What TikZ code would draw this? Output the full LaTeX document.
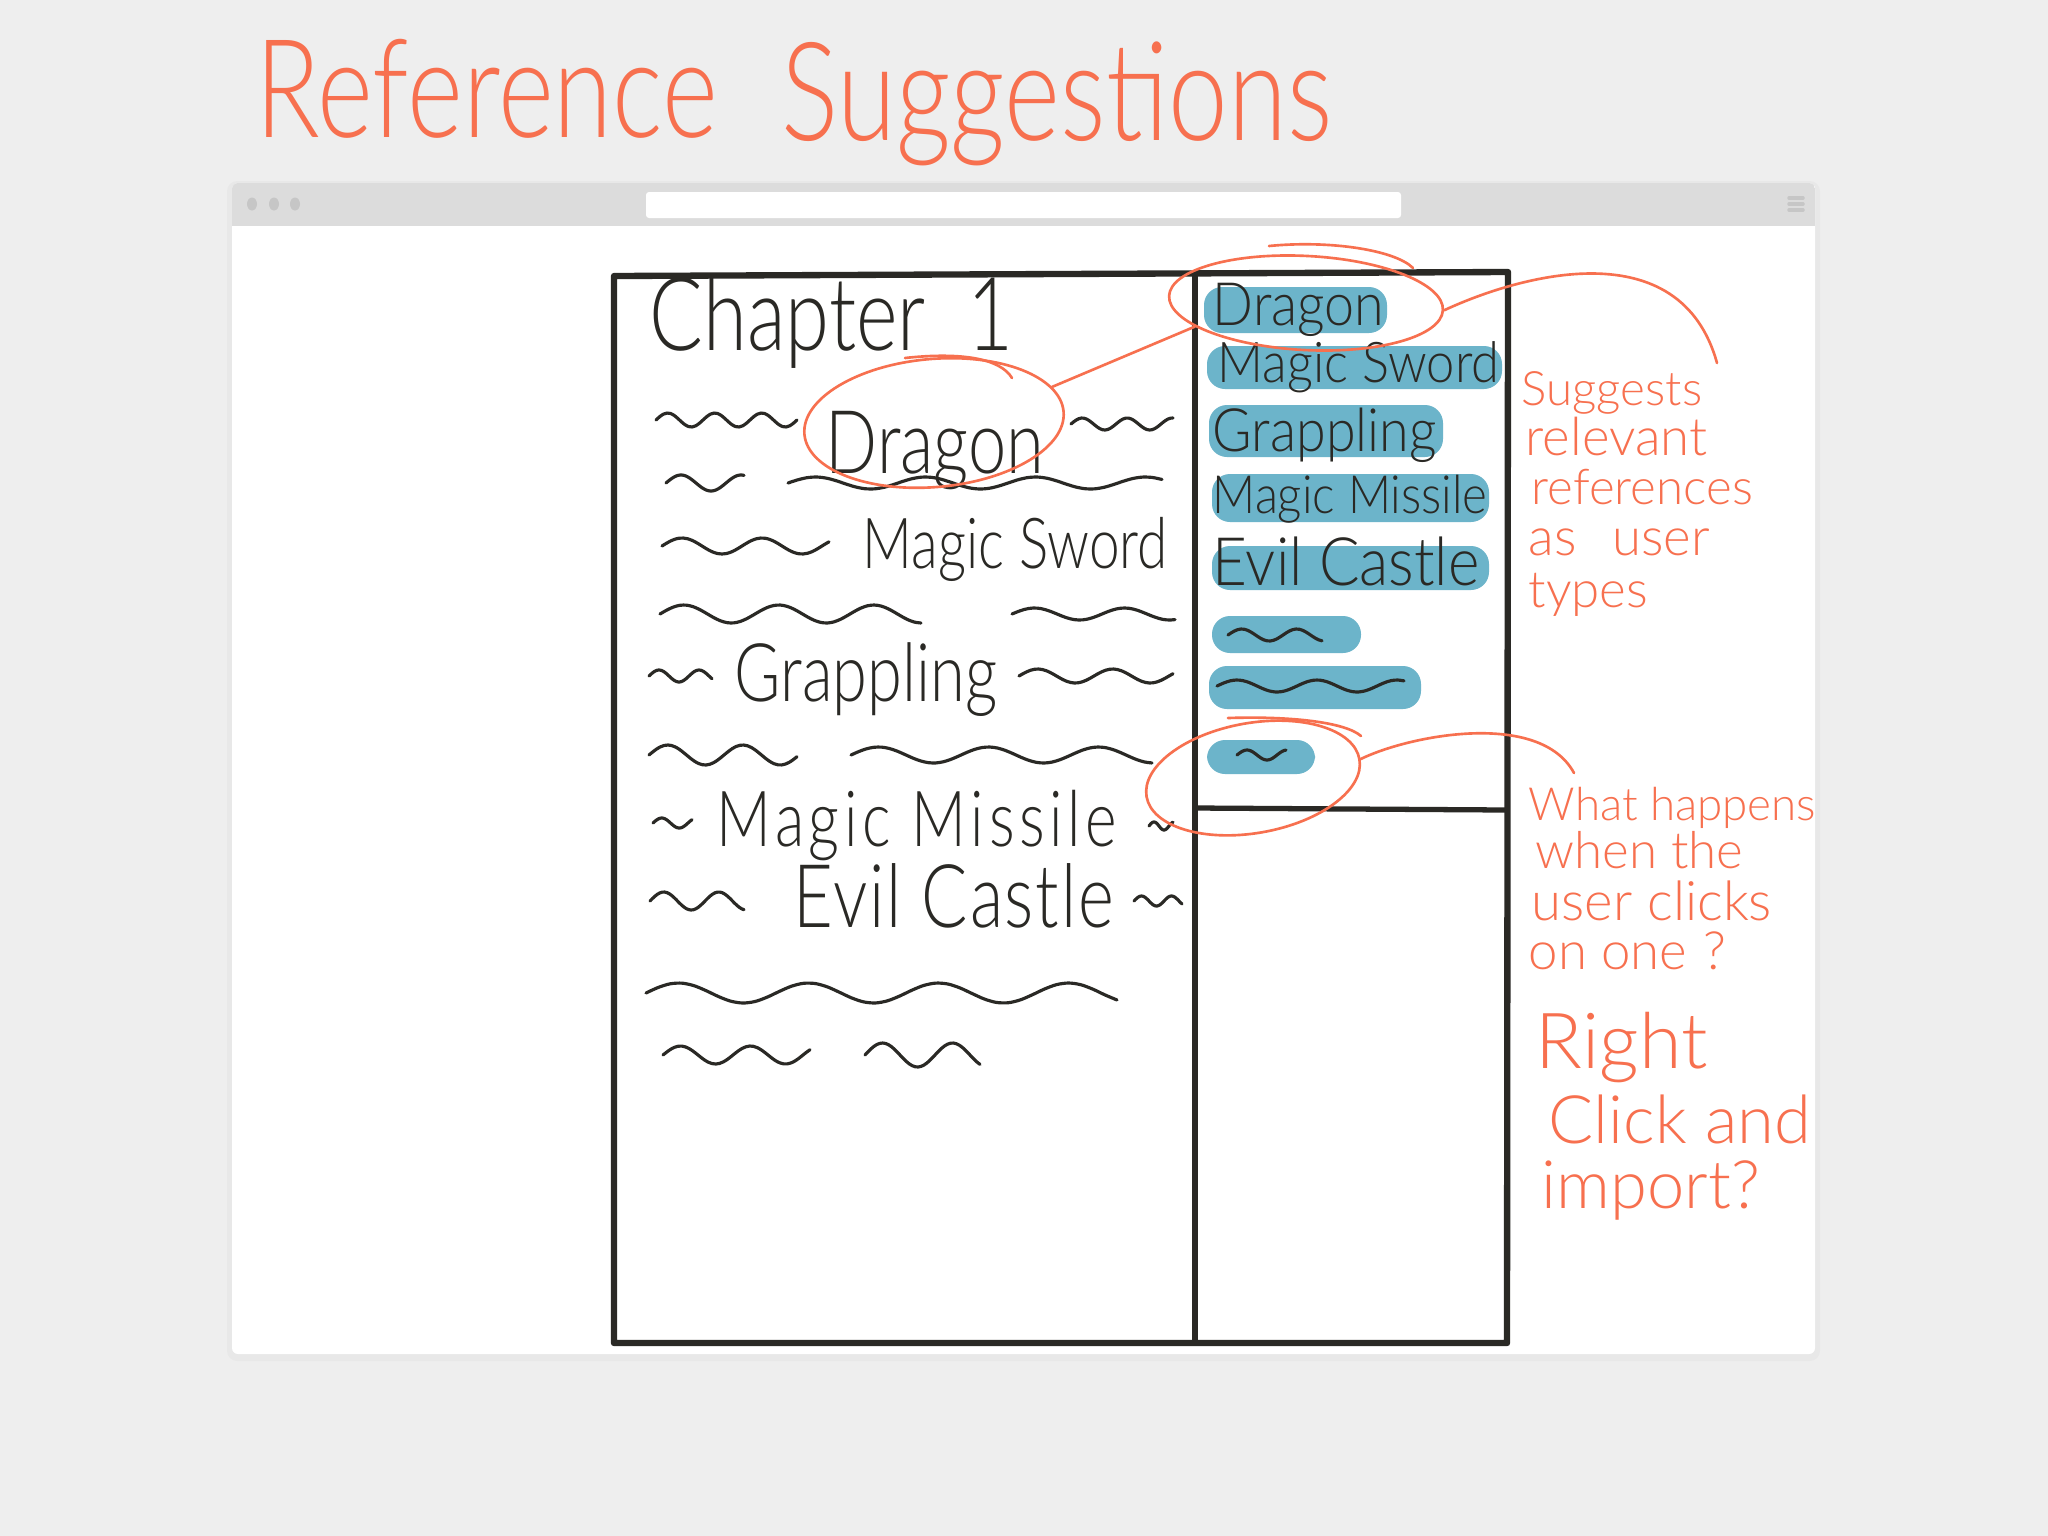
\documentclass[tikz,border=0pt]{standalone}
\usepackage{fontspec}
\usetikzlibrary{shapes.geometric}
\newfontfamily\handfont[FakeStretch=0.78]{Lato Light}
\newfontfamily\pillfont[FakeStretch=0.9]{Lato Light}
\newfontfamily\notefont{Lato Light}
\newcommand\handat[1]{\handfont\fontsize{#1}{#1}\selectfont}
\newcommand\pillat[1]{\pillfont\fontsize{#1}{#1}\selectfont}
\newcommand\noteat[1]{\notefont\fontsize{#1}{#1}\selectfont}
\definecolor{paper}{HTML}{EEEEEE}
\definecolor{chrome}{HTML}{DCDCDC}
\definecolor{knob}{HTML}{C6C6C6}
\definecolor{ink}{HTML}{2A2925}
\definecolor{pen}{HTML}{F7704F}
\definecolor{pill}{HTML}{6CB4CA}

\begin{document}
\begin{tikzpicture}[x=0.01cm, y=-0.01cm,
  inkline/.style={ink, line width=0.9pt, line cap=round, line join=round},
  penline/.style={pen, line width=0.75pt, line cap=round},
  ring/.style={draw=pen, line width=0.75pt, ellipse, inner sep=0pt},
  word/.style={text=ink, inner sep=0pt, anchor=base west},
  note/.style={text=pen, inner sep=0pt, anchor=base west}]
  \useasboundingbox (0,0) rectangle (2048,1536);
  \fill[paper] (0,0) rectangle (2048,1536);

  % browser window
  \fill[black, opacity=0.025, rounded corners=0.1cm] (227,181) rectangle (1820,1361);
  \fill[white, rounded corners=0.06cm] (232,183) rectangle (1815,1354);
  \begin{scope}
    \clip[rounded corners=0.06cm] (232,183) rectangle (1815,1354);
    \fill[chrome] (232,183) rectangle (1815,226);
  \end{scope}
  \fill[white, rounded corners=0.03cm] (646,192) rectangle (1401,218);
  \foreach \x in {252,274,295}
    \fill[knob] (\x,204) ellipse [x radius=5, y radius=6.5];
  \foreach \y in {198,204,210}
    \draw[knob, line width=1pt, line cap=round] (1789,\y) -- (1803,\y);

  % title
  \node[note, font=\handat{39}] (head1) at (255,137) {Reference};
  \node[note, font=\handat{39}] (head2) at (781,140) {Suggestions};

  % page and side panel
  \draw[ink, line width=1.8pt, line join=round] (614,276) -- (1508,272) -- (1507,1343) -- (614,1343) -- cycle;
  \draw[ink, line width=1.5pt] (1195,274) -- (1195,1343);
  \draw[ink, line width=1.5pt] (1195,808) -- (1506,810);

  % squiggly filler lines
  \foreach \a/\b/\y/\h/\p in {656/797/420/7/47, 1071/1173/424/6/45,
      666/744/483/8/60, 788/1162/483/6/110, 662/829/546/8/80,
      660/921/614/9/95, 1012/1175/614/6/90, 649/712/676/6/40,
      1019/1173/676/7/75, 649/797/755/10/75, 851/1152/755/8/110,
      653/692/823/5/35, 1149/1173/826/4/20, 650/744/901/9/55,
      1134/1182/901/5/30, 646/1117/993/10/130, 663/810/1055/9/70,
      865/980/1055/12/70}
    \draw[inkline] plot[domain=\a:\b, samples=40, smooth] (\x, {\y-\h*sin((\x-\a)/\p*360)});

  % page words
  \node[word, font=\handat{29}] (chap) at (649,350) {Chapter \hspace{0.2em}1};
  \node[word, font=\handat{25}] (dragL) at (825,473) {Dragon};
  \node[word, font=\handat{20}] (swordL) at (862,568) {Magic Sword};
  \node[word, font=\handat{23}] (grapL) at (734,701) {Grappling};
  \node[word, font={\handat{22}\addfontfeature{LetterSpace=6}}] (missL) at (716,846) {Magic Missile};
  \node[word, font={\handat{25}\addfontfeature{LetterSpace=2}}] (castL) at (793,927) {Evil Castle};

  % suggestion pills
  \foreach \a/\b/\c/\d in {1204/287/1387/333, 1207/346/1502/389,
      1209/405/1443/457, 1212/474/1489/522, 1212/546/1489/590,
      1212/616/1361/653, 1209/666/1421/709, 1207/740/1315/774}
    \fill[pill, rounded corners=0.18cm] (\a,\b) rectangle (\c,\d);
  \node[word, font=\pillat{17}] (dragR) at (1212,325) {Dragon};
  \node[word, font=\pillat{16}] (swordR) at (1217,382) {Magic Sword};
  \node[word, font=\pillat{17}] (grapR) at (1212,451) {Grappling};
  \node[word, font=\pillat{15}] (missR) at (1212,513) {Magic Missile};
  \node[word, font=\pillat{19}] (castR) at (1212,585) {Evil Castle};
  \foreach \a/\b/\y/\h/\p in {1228/1322/635/6/55, 1217/1404/686/6/80,
      1237/1286/755/5/40}
    \draw[inkline] plot[domain=\a:\b, samples=30, smooth] (\x, {\y-\h*sin((\x-\a)/\p*360)});

  % orange marks
  \node[ring, minimum width=2.6cm, minimum height=1.28cm, rotate=5] (ringL) at (934,423) {};
  \node[ring, minimum width=2.74cm, minimum height=0.94cm, rotate=-3] (ringR) at (1306,303) {};
  \node[ring, minimum width=2.16cm, minimum height=1.1cm, rotate=10] (ringB) at (1253,778) {};
  \draw[penline] (905,358) .. controls (960,352) and (1000,358) .. (1012,378);
  \draw[penline] (1269,246) .. controls (1330,240) and (1395,250) .. (1413,268);
  \draw[penline] (1228,718) .. controls (1290,716) and (1345,722) .. (1361,736);

  \coordinate (sugtip) at (1717,363);
  \coordinate (whattip) at (1574,773);
  \draw[penline] (ringR.195) -- (ringL.12);
  \draw[penline] (ringR.east) .. controls (1520,275) and (1680,230) .. (sugtip);
  \draw[penline] (ringB.east) .. controls (1410,735) and (1540,710) .. (whattip);

  % notes
  \foreach \t/\x/\y/\s [count=\i] in {Suggests/1521/405/13.5, relevant/1525/455/15,
      references/1531/504/14, as\hspace{0.4em} user/1528/555/15, types/1528/607/14.5}
    \node[note, font=\noteat{\s}] (sug\i) at (\x,\y) {\t};
  \foreach \t/\x/\y/\s [count=\i] in {What happens/1528/820/13, when the/1535/868/14.5,
      user clicks/1531/920/15.5, on one\hspace{0.3em}?/1528/969/15}
    \node[note, font=\noteat{\s}] (what\i) at (\x,\y) {\t};
  \foreach \t/\x/\y/\s [count=\i] in {Right/1535/1068/22, Click and/1548/1143/19,
      import?/1541/1208/19}
    \node[note, font=\noteat{\s}] (click\i) at (\x,\y) {\t};
\end{tikzpicture}
\end{document}
